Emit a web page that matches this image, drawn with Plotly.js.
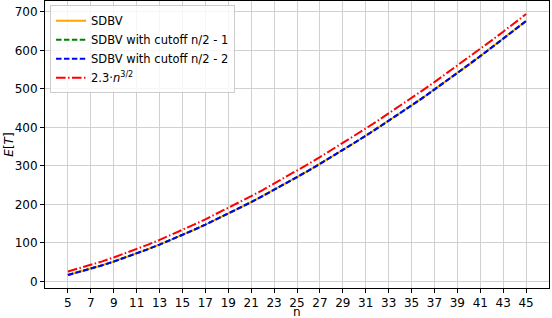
<!DOCTYPE html>
<html>
<head>
<meta charset="utf-8">
<script src="https://cdn.plot.ly/plotly-3.0.1.min.js"></script>
<style>html,body{margin:0;padding:0;background:#fff;}#chart{width:552px;height:318px;}</style>
</head>
<body>
<div id="chart"></div>
<script>
const nValues = [5,6,7,8,9,10,11,12,13,14,15,16,17,18,19,20,21,22,23,24,25,26,27,28,29,30,31,32,33,34,35,36,37,38,39,40,41,42,43,44,45];
const sdbv = [16.7,24.4,32.8,41.8,51.5,61.7,72.5,83.8,95.6,107.9,120.6,133.8,147.4,161.5,175.9,190.7,205.9,221.5,237.5,253.8,270.5,287.6,305.1,322.9,341.0,359.4,378.3,397.4,416.9,436.7,456.7,477.3,498.2,519.5,541.0,562.9,585.0,607.4,630.1,653.1,676.3];
const sdbvCut1 = [16.7,24.4,32.8,41.8,51.5,61.7,72.5,83.8,95.6,107.9,120.6,133.8,147.4,161.5,175.9,190.7,205.9,221.5,237.5,253.8,270.5,287.6,305.1,322.9,341.0,359.4,378.3,397.4,416.9,436.7,456.7,477.3,498.2,519.5,541.0,562.9,585.0,607.4,630.1,653.1,676.3];
const sdbvCut2 = [16.6,24.3,32.7,41.7,51.4,61.6,72.4,83.7,95.5,107.8,120.5,133.7,147.3,161.4,175.8,190.6,205.8,221.4,237.4,253.7,270.4,287.5,305.0,322.8,340.9,359.3,378.2,397.3,416.8,436.6,456.6,477.2,498.1,519.4,540.9,562.8,584.9,607.3,630.0,653.0,676.2];
const bound = [25.7,33.8,42.6,52.0,62.1,72.7,83.9,95.6,107.8,120.5,133.6,147.2,161.2,175.7,190.5,205.7,221.3,237.3,253.7,270.4,287.5,304.9,322.7,340.8,359.2,377.9,397.0,416.3,436.0,456.0,476.2,496.8,517.6,538.8,560.2,581.9,603.8,626.0,648.5,671.3,694.3];
const xTicks = [5,7,9,11,13,15,17,19,21,23,25,27,29,31,33,35,37,39,41,43,45];
const yTicks = [0,100,200,300,400,500,600,700];
const seriesNames = ["SDBV","SDBV with cutoff n/2 - 1","SDBV with cutoff n/2 - 2","2.3\u00b7<i>n</i><sup>3/2</sup>"];
const xTitle = "n";
const yTitle = "<i>E</i>[<i>T</i>]";

const traces = [
  {x:nValues, y:sdbv, name:seriesNames[0], mode:'lines', line:{color:'#FFA500', width:2}},
  {x:nValues, y:sdbvCut1, name:seriesNames[1], mode:'lines', line:{color:'#008000', width:2, dash:'5.5px,2.4px'}},
  {x:nValues, y:sdbvCut2, name:seriesNames[2], mode:'lines', line:{color:'#0000FF', width:2, dash:'5.5px,2.4px'}},
  {x:nValues, y:bound, name:seriesNames[3], mode:'lines', line:{color:'#FF0000', width:2, dash:'9.6px,2.4px,1.5px,2.4px'}}
];

const axisCommon = {
  showline:true, linecolor:'#000', linewidth:1, mirror:true,
  ticks:'outside', ticklen:4, tickwidth:1, tickcolor:'#000',
  showgrid:true, gridcolor:'#d0d0d0', gridwidth:1, zeroline:false,
  tickfont:{family:'DejaVu Sans', size:12, color:'#000'}
};

const layout = {
  width:552, height:318,
  margin:{l:45, r:3, t:1, b:30},
  paper_bgcolor:'#fff', plot_bgcolor:'#fff',
  font:{family:'DejaVu Sans', size:12, color:'#000'},
  showlegend:true,
  legend:{x:0.01, y:0.985, xanchor:'left', yanchor:'top', bgcolor:'rgba(255,255,255,0.8)', bordercolor:'#cccccc', borderwidth:1, font:{family:'DejaVu Sans', size:11.5, color:'#000'}, tracegroupgap:0},
  xaxis:Object.assign({}, axisCommon, {range:[3,47], tickmode:'array', tickvals:xTicks}),
  yaxis:Object.assign({}, axisCommon, {range:[-17.2,728.2], tickmode:'array', tickvals:yTicks}),
  annotations:[
    {text:xTitle, xref:'paper', yref:'paper', x:0.5, y:-0.084, xanchor:'center', yanchor:'middle', showarrow:false, font:{family:'DejaVu Sans', size:12, color:'#000'}},
    {text:yTitle, xref:'paper', yref:'paper', x:-0.073, y:0.5, xanchor:'center', yanchor:'middle', textangle:-90, showarrow:false, font:{family:'DejaVu Sans', size:12, color:'#000'}}
  ]
};

Plotly.newPlot('chart', traces, layout, {displayModeBar:false, staticPlot:true});
</script>
</body>
</html>
